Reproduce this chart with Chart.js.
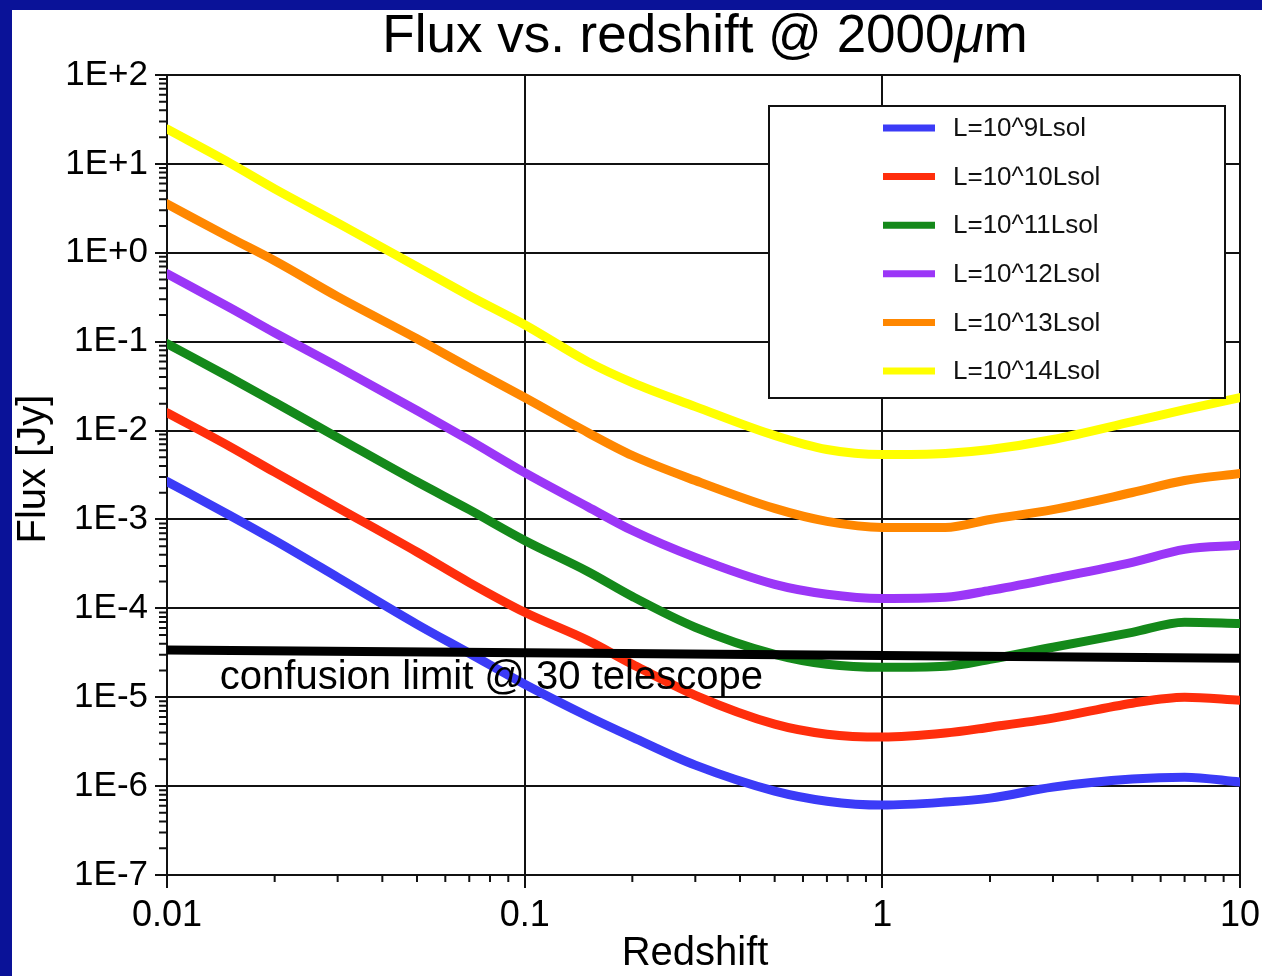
<!DOCTYPE html>
<html>
<head>
<meta charset="utf-8">
<script src="https://cdn.jsdelivr.net/npm/chart.js@4"></script>
<style>
  html, body { margin: 0; padding: 0; overflow: hidden; }
  body { width: 1262px; height: 976px; background: #0a1298; position: relative; }
  #wrap { position: absolute; left: 12px; top: 10px; width: 1250px; height: 966px; background: #fff; }
</style>
</head>
<body>
<div id="wrap"><canvas id="myChart"></canvas></div>
<script>
// data
const redshift = [0.01, 0.015, 0.02, 0.03, 0.05, 0.07, 0.1, 0.15, 0.2, 0.3, 0.5, 0.7, 1, 1.5, 2, 3, 5, 7, 10];

const flux9  = [2.67e-3, 1.11e-3, 5.81e-4, 2.23e-4, 6.61e-5, 3.12e-5, 1.40e-5, 6.12e-6, 3.56e-6, 1.72e-6, 8.79e-7, 6.77e-7, 6.12e-7, 6.61e-7, 7.33e-7, 9.75e-7, 1.20e-6, 1.26e-6, 1.11e-6];
const flux10 = [1.59e-2, 6.60e-3, 3.40e-3, 1.36e-3, 4.30e-4, 1.95e-4, 9.02e-5, 4.36e-5, 2.35e-5, 1.05e-5, 4.98e-6, 3.84e-6, 3.56e-6, 3.95e-6, 4.60e-6, 5.81e-6, 8.57e-6, 1.00e-5, 9.25e-6];
const flux11 = [9.51e-2, 3.95e-2, 2.08e-2, 8.34e-3, 2.65e-3, 1.29e-3, 5.81e-4, 2.60e-4, 1.36e-4, 6.12e-5, 3.04e-5, 2.35e-5, 2.17e-5, 2.23e-5, 2.67e-5, 3.65e-5, 5.37e-5, 6.97e-5, 6.77e-5];
const flux12 = [0.581, 0.241, 0.126, 5.24e-2, 1.68e-2, 7.80e-3, 3.36e-3, 1.39e-3, 7.50e-4, 3.74e-4, 1.86e-4, 1.44e-4, 1.29e-4, 1.33e-4, 1.59e-4, 2.17e-4, 3.29e-4, 4.60e-4, 5.11e-4];
const flux13 = [3.55, 1.48, 0.813, 0.321, 0.108, 5.11e-2, 2.35e-2, 9.51e-3, 5.24e-3, 2.74e-3, 1.33e-3, 9.51e-4, 8.13e-4, 8.13e-4, 1.00e-3, 1.29e-3, 2.01e-3, 2.74e-3, 3.29e-3];
const flux14 = [24.7, 10.2, 5.24, 2.17, 0.697, 0.329, 0.155, 5.96e-2, 3.46e-2, 1.86e-2, 8.79e-3, 6.12e-3, 5.37e-3, 5.52e-3, 6.12e-3, 7.93e-3, 1.26e-2, 1.72e-2, 2.35e-2];

const confusionZ = [0.01, 10];
const confusionFlux = [3.4e-5, 2.75e-5];

const seriesLabels = ['L=10^9Lsol', 'L=10^10Lsol', 'L=10^11Lsol', 'L=10^12Lsol', 'L=10^13Lsol', 'L=10^14Lsol'];
const seriesColors = ['#3b3bf7', '#ff2e0c', '#14891a', '#9b36f7', '#ff8700', '#ffff00'];
const seriesValues = [flux9, flux10, flux11, flux12, flux13, flux14];

const xTickValues = [0.01, 0.1, 1, 10];
const xTickLabels = ['0.01', '0.1', '1', '10'];
const yTickValues = [1e-7, 1e-6, 1e-5, 1e-4, 1e-3, 1e-2, 1e-1, 1, 10, 100];
const yTickLabels = ['1E-7', '1E-6', '1E-5', '1E-4', '1E-3', '1E-2', '1E-1', '1E+0', '1E+1', '1E+2'];

const FONT = '"Liberation Sans", Arial, Helvetica, sans-serif';

const toPoints = (xs, ys) => xs.map((x, i) => ({ x: x, y: ys[i] }));

const datasets = seriesValues.map((vals, i) => ({
  label: seriesLabels[i],
  data: toPoints(redshift, vals),
  borderColor: seriesColors[i],
  backgroundColor: seriesColors[i],
  borderWidth: 9,
  cubicInterpolationMode: 'monotone',
  pointRadius: 0,
  borderCapStyle: 'round',
  borderJoinStyle: 'round',
  order: 1
}));

datasets.push({
  label: 'confusion',
  data: toPoints(confusionZ, confusionFlux),
  borderColor: '#000',
  borderWidth: 9,
  pointRadius: 0,
  order: 0
});

// minor log ticks, texts and the legend box
const extras = {
  id: 'extras',
  afterDatasetsDraw(chart) {
    const ctx = chart.ctx;
    const xs = chart.scales.x, ys = chart.scales.y;
    const area = chart.chartArea;
    ctx.save();

    // minor ticks
    ctx.strokeStyle = '#111';
    ctx.lineWidth = 2;
    ctx.beginPath();
    for (let k = -7; k < 2; k++) {
      for (let m = 2; m < 10; m++) {
        const py = ys.getPixelForValue(m * Math.pow(10, k));
        ctx.moveTo(area.left - 8, py);
        ctx.lineTo(area.left, py);
      }
    }
    for (let k = -2; k < 1; k++) {
      for (let m = 2; m < 10; m++) {
        const px = xs.getPixelForValue(m * Math.pow(10, k));
        ctx.moveTo(px, area.bottom);
        ctx.lineTo(px, area.bottom + 7);
      }
    }
    ctx.stroke();

    ctx.fillStyle = '#000';
    ctx.textBaseline = 'alphabetic';

    // confusion label
    ctx.font = '40px ' + FONT;
    ctx.textAlign = 'left';
    ctx.fillText('confusion limit @ 30 telescope', xs.getPixelForValue(0.01405), ys.getPixelForValue(1.23e-5));

    // title with italic mu
    const parts = [['Flux vs. redshift @ 2000', ''], ['\u03BC', 'italic '], ['m', '']];
    let total = 0;
    parts.forEach(p => { ctx.font = p[1] + '53px ' + FONT; total += ctx.measureText(p[0]).width; });
    let tx = 693 - total / 2;
    parts.forEach(p => {
      ctx.font = p[1] + '53px ' + FONT;
      ctx.fillText(p[0], tx, 42);
      tx += ctx.measureText(p[0]).width;
    });

    // axis titles
    ctx.font = '40px ' + FONT;
    ctx.textAlign = 'center';
    ctx.fillText('Redshift', 683, 955);
    ctx.save();
    ctx.translate(33, 459);
    ctx.rotate(-Math.PI / 2);
    ctx.fillText('Flux [Jy]', 0, 0);
    ctx.restore();

    // legend
    const bx = area.right - 471, by = area.top + 31, bw = 456, bh = 292;
    ctx.fillStyle = '#fff';
    ctx.fillRect(bx, by, bw, bh);
    ctx.strokeStyle = '#111';
    ctx.lineWidth = 2;
    ctx.strokeRect(bx, by, bw, bh);
    ctx.font = '26px ' + FONT;
    ctx.textAlign = 'left';
    ctx.textBaseline = 'middle';
    seriesLabels.forEach((lab, i) => {
      const ry = by + 22 + i * 48.6;
      ctx.strokeStyle = seriesColors[i];
      ctx.lineWidth = 7;
      ctx.beginPath();
      ctx.moveTo(bx + 114, ry);
      ctx.lineTo(bx + 166, ry);
      ctx.stroke();
      ctx.fillStyle = '#111';
      ctx.fillText(lab, bx + 184, ry + 1);
    });
    ctx.restore();
  }
};

const config = {
  type: 'line',
  data: { datasets },
  options: {
    responsive: true,
    maintainAspectRatio: false,
    animation: false,
    layout: { padding: { top: 65, right: 22, left: 0, bottom: 0 } },
    plugins: {
      legend: { display: false },
      tooltip: { enabled: false },
      title: { display: false }
    },
    scales: {
      x: {
        type: 'logarithmic',
        min: 0.01,
        max: 10,
        afterBuildTicks: axis => { axis.ticks = xTickValues.map(v => ({ value: v })); },
        afterFit: axis => { axis.height = 101; axis.paddingLeft = 0; axis.paddingRight = 0; },
        ticks: {
          autoSkip: false,
          maxRotation: 0,
          padding: 6,
          color: '#000',
          font: { family: FONT, size: 36 },
          callback: (v) => xTickLabels[xTickValues.indexOf(v)]
        },
        grid: { color: '#111', lineWidth: 2, tickLength: 13 },
        border: { color: '#111', width: 2 }
      },
      y: {
        type: 'logarithmic',
        min: 1e-7,
        max: 100,
        afterBuildTicks: axis => { axis.ticks = yTickValues.map(v => ({ value: v })); },
        afterFit: axis => { axis.width = 155; axis.paddingTop = 0; axis.paddingBottom = 0; },
        ticks: {
          autoSkip: false,
          padding: 7,
          color: '#000',
          font: { family: FONT, size: 35 },
          callback: (v) => yTickLabels[yTickValues.findIndex(t => Math.abs(t - v) / t < 1e-6)]
        },
        grid: { color: '#111', lineWidth: 2, tickLength: 12 },
        border: { color: '#111', width: 2 }
      }
    }
  },
  plugins: [extras]
};

const myChart = new Chart(document.getElementById('myChart'), config);
</script>
</body>
</html>
